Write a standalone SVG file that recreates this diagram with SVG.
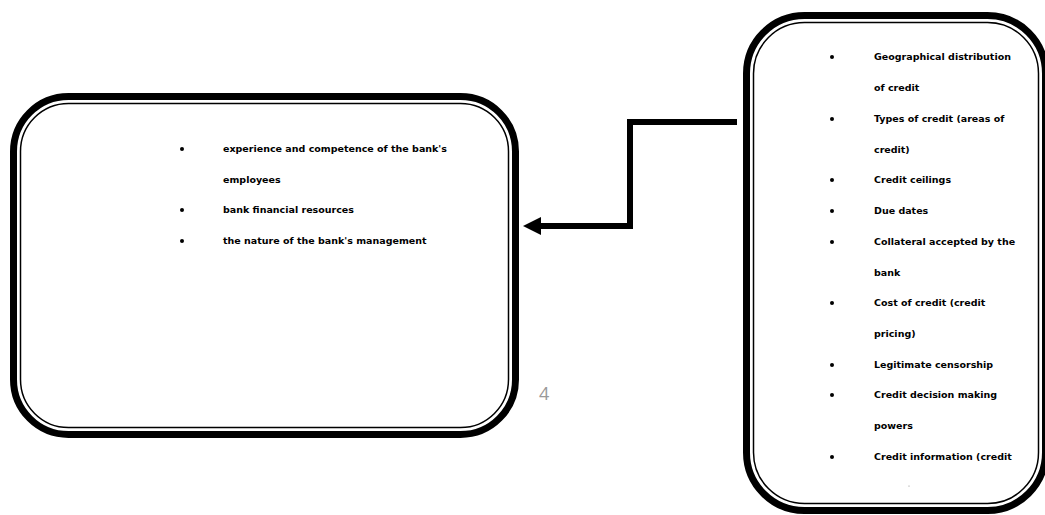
<svg xmlns="http://www.w3.org/2000/svg" width="1045" height="515" viewBox="0 0 1045 515">
<style>
.outer{fill:none;stroke:#000;stroke-width:7}
.inner{fill:none;stroke:#000;stroke-width:1.5}
.t{font-family:"DejaVu Sans",Verdana,sans-serif;font-weight:bold;font-size:9.5px;fill:#000}
.b{fill:#000}
.pg{font-family:"Open Sans","Liberation Sans",sans-serif;font-size:18px;fill:#999}
.conn{fill:none;stroke:#000;stroke-width:6}
</style>
<rect width="1045" height="515" fill="#fff"/>
<g id="node-left">
<rect class="outer" x="13.5" y="96.5" width="502" height="338" rx="55" ry="55"/>
<rect class="inner" x="20.5" y="103.5" width="488" height="324" rx="48" ry="48"/>
<circle class="b" cx="182" cy="149" r="2"/>
<text class="t" x="223" y="152">experience and competence of the bank's</text>
<text class="t" x="223" y="183">employees</text>
<circle class="b" cx="182" cy="210" r="2"/>
<text class="t" x="223" y="213">bank financial resources</text>
<circle class="b" cx="182" cy="241" r="2"/>
<text class="t" x="223" y="244">the nature of the bank's management</text>
</g>
<g id="node-right">
<rect class="outer" x="746.5" y="15.5" width="299" height="495" rx="58" ry="58"/>
<rect class="inner" x="753.5" y="22.5" width="285" height="481" rx="51" ry="51"/>
<circle class="b" cx="832" cy="57" r="2"/>
<text class="t" x="874" y="60">Geographical distribution</text>
<text class="t" x="874" y="91">of credit</text>
<circle class="b" cx="832" cy="119" r="2"/>
<text class="t" x="874" y="122">Types of credit (areas of</text>
<text class="t" x="874" y="153">credit)</text>
<circle class="b" cx="832" cy="180" r="2"/>
<text class="t" x="874" y="183">Credit ceilings</text>
<circle class="b" cx="832" cy="211" r="2"/>
<text class="t" x="874" y="214">Due dates</text>
<circle class="b" cx="832" cy="242" r="2"/>
<text class="t" x="874" y="245">Collateral accepted by the</text>
<text class="t" x="874" y="276">bank</text>
<circle class="b" cx="832" cy="303" r="2"/>
<text class="t" x="874" y="306">Cost of credit (credit</text>
<text class="t" x="874" y="337">pricing)</text>
<circle class="b" cx="832" cy="365" r="2"/>
<text class="t" x="874" y="368">Legitimate censorship</text>
<circle class="b" cx="832" cy="395" r="2"/>
<text class="t" x="874" y="398">Credit decision making</text>
<text class="t" x="874" y="429">powers</text>
<circle class="b" cx="832" cy="457" r="2"/>
<text class="t" x="874" y="460">Credit information (credit</text>
<circle cx="909" cy="486" r="0.6" fill="#888"/>
</g>
<g id="connectors">
<path class="conn" d="M737,122 H630 V226 H540"/>
<path d="M523,226 L541,217 L541,235 z" fill="#000"/>
</g>
<text class="pg" x="539" y="400">4</text>
</svg>
